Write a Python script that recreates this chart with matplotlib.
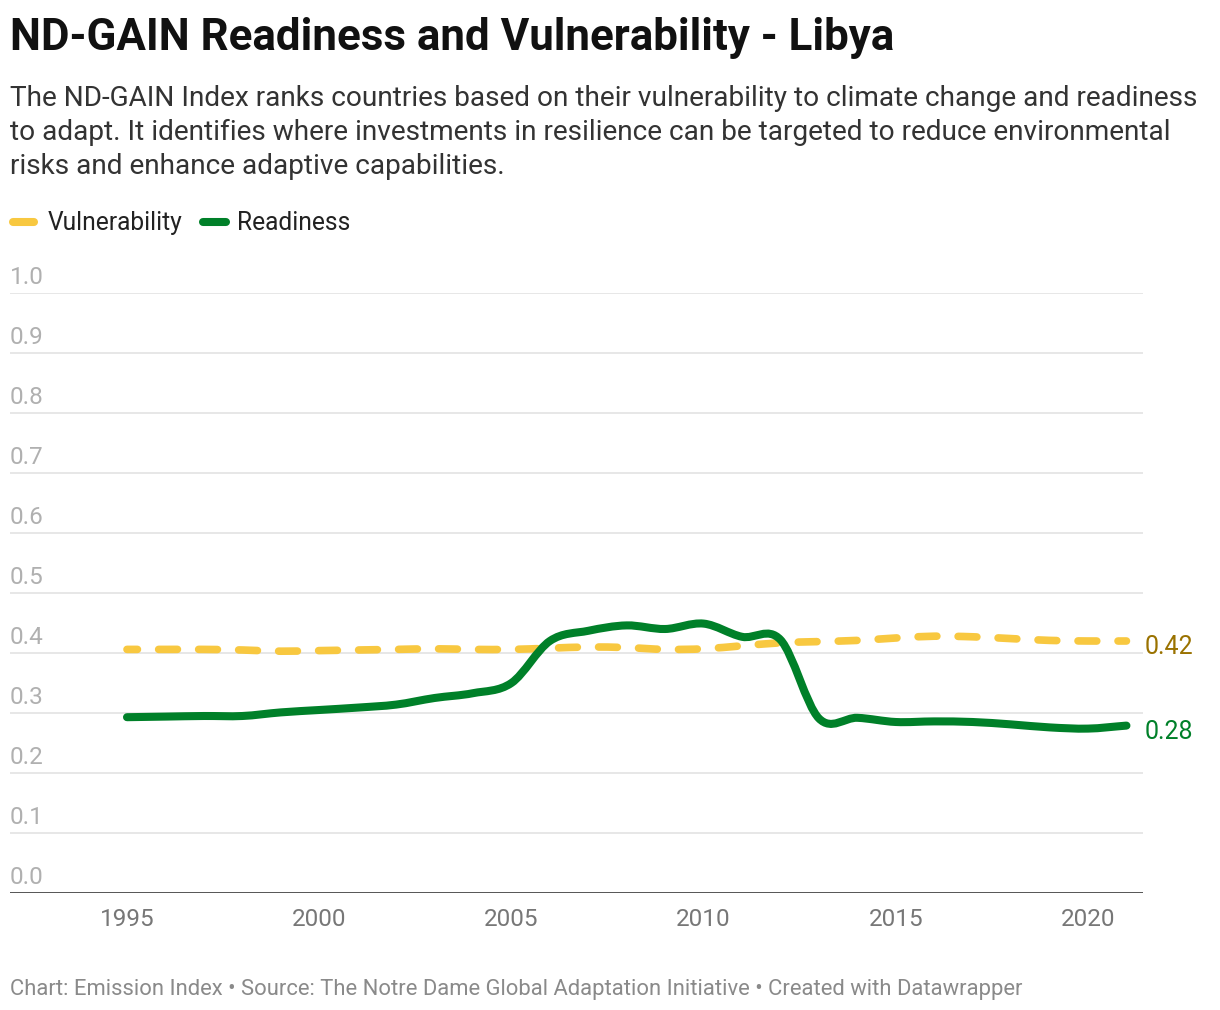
import numpy as np
import matplotlib
matplotlib.use("Agg")
import matplotlib.pyplot as plt
from matplotlib.path import Path
from matplotlib.patches import PathPatch
from matplotlib.lines import Line2D
import matplotlib.transforms as mtransforms

plt.rcParams['font.family'] = ['Roboto', 'DejaVu Sans']
plt.rcParams['lines.scale_dashes'] = False

years = list(range(1995, 2022))
vulnerability = [0.406, 0.406, 0.406, 0.405, 0.403, 0.404, 0.405, 0.406, 0.407, 0.406,
                 0.406, 0.408, 0.410, 0.409, 0.406, 0.407, 0.412, 0.417, 0.419, 0.421,
                 0.425, 0.428, 0.427, 0.424, 0.421, 0.420, 0.420]
readiness = [0.293, 0.294, 0.295, 0.295, 0.301, 0.305, 0.309, 0.314, 0.325, 0.333,
             0.350, 0.420, 0.437, 0.446, 0.440, 0.449, 0.427, 0.422, 0.291, 0.292,
             0.285, 0.286, 0.285, 0.281, 0.276, 0.274, 0.279]
y_ticks = [0.0, 0.1, 0.2, 0.3, 0.4, 0.5, 0.6, 0.7, 0.8, 0.9, 1.0]
x_ticks = [1995, 2000, 2005, 2010, 2015, 2020]

YELLOW = '#f8c840'
GREEN = '#008029'
W, H = 1220, 1010


def smooth_path(xs, ys):
    # catmull-rom style cubic bezier path through the points
    x = np.asarray(xs, float)
    y = np.asarray(ys, float)
    n = len(x)
    t = np.zeros(n)
    t[1:-1] = (y[2:] - y[:-2]) / (x[2:] - x[:-2])
    t[0] = (y[1] - y[0]) / (x[1] - x[0])
    t[-1] = (y[-1] - y[-2]) / (x[-1] - x[-2])
    verts = [(x[0], y[0])]
    codes = [Path.MOVETO]
    for i in range(n - 1):
        dx = (x[i + 1] - x[i]) / 3
        verts += [(x[i] + dx, y[i] + t[i] * dx), (x[i + 1] - dx, y[i + 1] - t[i + 1] * dx), (x[i + 1], y[i + 1])]
        codes += [Path.CURVE4] * 3
    return Path(verts, codes)


def fx(px):
    return px / W


def fy(py):
    return 1 - py / H


fig = plt.figure(figsize=(W / 100, H / 100), dpi=100)
ax = fig.add_axes([fx(10), fy(893), fx(1143) - fx(10), fy(293) - fy(893)])

per_year = (1088 - 127) / 25
ax.set_xlim(1995 - 117 / per_year, 1995 + (1143 - 127) / per_year)
ax.set_ylim(0, 1.0)

for v in y_ticks[1:]:
    ax.axhline(v, color='#e3e3e3', lw=1.2, zorder=1)
ax.axhline(0, color='#222222', lw=1.8, zorder=2)

for s in ax.spines.values():
    s.set_visible(False)
ax.set_yticks([])
ax.set_xticks(x_ticks)
ax.set_xticklabels([str(t) for t in x_ticks])
ax.tick_params(axis='x', length=0, pad=11, labelsize=17.5, labelcolor='#777777')

lab_tr = mtransforms.offset_copy(ax.get_yaxis_transform(), fig=fig, x=0, y=6.5, units='points')
for v in y_ticks:
    ax.text(0, v, f"{v:.1f}", transform=lab_tr, ha='left', va='baseline',
            fontsize=17.5, color='#b0b0b0')

vul_patch = PathPatch(smooth_path(years, vulnerability), fill=False, edgecolor=YELLOW,
                      lw=5.5, linestyle=(6, (13.5, 15.3)), capstyle='round', zorder=3)
ax.add_patch(vul_patch)
rd_patch = PathPatch(smooth_path(years, readiness), fill=False, edgecolor=GREEN,
                     lw=5.8, capstyle='round', joinstyle='round', zorder=4)
ax.add_patch(rd_patch)

end_tr = mtransforms.offset_copy(ax.transData, fig=fig, x=13, y=-4.5, units='points')
ax.text(years[-1], vulnerability[-1], f"{vulnerability[-1]:.2f}", transform=end_tr,
        ha='left', va='center', fontsize=18, color='#9a7200')
ax.text(years[-1], readiness[-1], f"{readiness[-1]:.2f}", transform=end_tr,
        ha='left', va='center', fontsize=18, color=GREEN)

# title, description
fig.text(fx(10), fy(50), "ND-GAIN Readiness and Vulnerability - Libya", ha='left', va='baseline',
         fontsize=31.6, fontweight='bold', color='#111111')
desc = ["The ND-GAIN Index ranks countries based on their vulnerability to climate change and readiness",
        "to adapt. It identifies where investments in resilience can be targeted to reduce environmental",
        "risks and enhance adaptive capabilities."]
for i, line in enumerate(desc):
    fig.text(fx(10), fy(106 + 34 * i), line, ha='left', va='baseline', fontsize=20.2, color='#333333')

# legend
fig.add_artist(Line2D([fx(13), fx(34)], [fy(222), fy(222)], color=YELLOW, lw=5.8,
                      solid_capstyle='round'))
fig.text(fx(48), fy(230), "Vulnerability", ha='left', va='baseline', fontsize=17.7, color='#222222')
fig.add_artist(Line2D([fx(203), fx(226)], [fy(222), fy(222)], color=GREEN, lw=5.8,
                      solid_capstyle='round'))
fig.text(fx(237), fy(230), "Readiness", ha='left', va='baseline', fontsize=17.7, color='#222222')

fig.text(fx(10), fy(995), "Chart: Emission Index • Source: The Notre Dame Global Adaptation Initiative • Created with Datawrapper",
         ha='left', va='baseline', fontsize=15.8, color='#8a8a8a')

fig.savefig("out.png", dpi=100, facecolor='white')
